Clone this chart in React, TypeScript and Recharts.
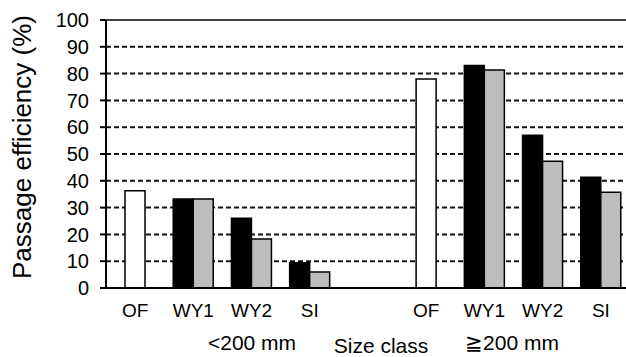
import React from 'react';
import {
  BarChart,
  Bar,
  XAxis,
  YAxis,
  CartesianGrid,
  ReferenceLine,
  Customized
} from 'recharts';

// categories (two size classes, with an empty slot between them)
const categoryKeys = ['OF-s', 'WY1-s', 'WY2-s', 'SI-s', 'gap', 'OF-l', 'WY1-l', 'WY2-l', 'SI-l'];
const categoryLabels = ['OF', 'WY1', 'WY2', 'SI', '', 'OF', 'WY1', 'WY2', 'SI'];

// series values (%)
const openValues = [36.3, null, null, null, null, 78, null, null, null];
const blackValues = [null, 33.2, 26, 9.4, null, null, 83, 57, 41.3];
const grayValues = [null, 33.2, 18.3, 6, null, null, 81.3, 47.3, 35.7];

const yTicks = [0, 10, 20, 30, 40, 50, 60, 70, 80, 90, 100];

const FONT = '"Liberation Sans", Arial, sans-serif';

const data = categoryKeys.map((key, i) => ({
  key,
  label: categoryLabels[i],
  open: openValues[i],
  black: blackValues[i],
  gray: grayValues[i]
}));

const labelFor = (key: string) => {
  const idx = categoryKeys.indexOf(key);
  return idx >= 0 ? categoryLabels[idx] : '';
};

// titles and group labels under the axis
const AxisTexts = () => (
  <g fontFamily={FONT} fill="#000">
    <text x={22} y={147} fontSize={26} textAnchor="middle" dominantBaseline="central" transform="rotate(-90 22 147)">
      Passage efficiency (%)
    </text>
    <text x={252} y={350} fontSize={21} textAnchor="middle">&lt;200 mm</text>
    <text x={381} y={353} fontSize={21} textAnchor="middle">Size class</text>
    <text x={512} y={350} fontSize={21} textAnchor="middle">≧200 mm</text>
  </g>
);

const App: React.FC = () => {
  return (
    <div style={{ position: 'absolute', left: 0, top: 0, width: 626, height: 357, overflow: 'hidden', background: '#fff' }}>
      <BarChart
        width={640}
        height={357}
        data={data}
        margin={{ top: 20, right: 10, bottom: 39, left: 0 }}
        barGap={0}
      >
        <CartesianGrid horizontal vertical={false} stroke="#111" strokeWidth={2} strokeDasharray="5 3" />
        <XAxis
          dataKey="key"
          xAxisId="pair"
          height={30}
          interval={0}
          tickFormatter={labelFor}
          tickLine={false}
          tickSize={0}
          tickMargin={16}
          axisLine={{ stroke: '#000', strokeWidth: 2 }}
          tick={{ fill: '#000', fontSize: 19, fontFamily: FONT }}
        />
        <XAxis dataKey="key" xAxisId="single" hide />
        <YAxis
          xAxisId="pair"
          width={106}
          domain={[0, 100]}
          ticks={yTicks}
          interval={0}
          tickSize={6}
          tickMargin={11}
          axisLine={{ stroke: '#000', strokeWidth: 2 }}
          tickLine={{ stroke: '#000', strokeWidth: 2 }}
          tick={{ fill: '#000', fontSize: 20, fontFamily: FONT }}
        />
        <ReferenceLine xAxisId="pair" y={100} stroke="#444" strokeWidth={2} />
        <Bar xAxisId="single" dataKey="open" fill="#fff" stroke="#000" strokeWidth={1.5} barSize={20} isAnimationActive={false} />
        <Bar xAxisId="pair" dataKey="black" fill="#000" stroke="#000" strokeWidth={1.5} barSize={20} isAnimationActive={false} />
        <Bar xAxisId="pair" dataKey="gray" fill="#bdbdbd" stroke="#000" strokeWidth={1.5} barSize={20} isAnimationActive={false} />
        <Customized component={<AxisTexts />} />
      </BarChart>
    </div>
  );
};

export default App;
